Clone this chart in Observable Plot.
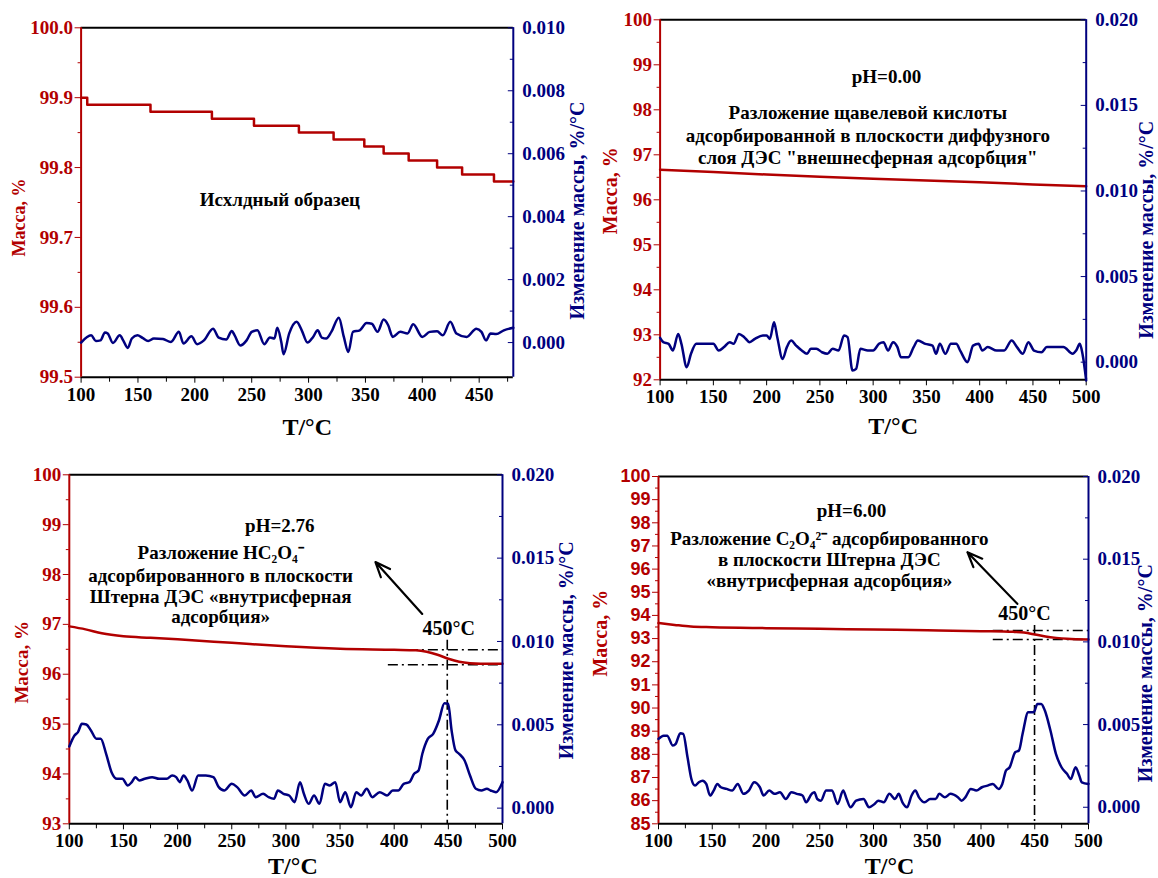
<!DOCTYPE html>
<html><head><meta charset="utf-8">
<script src="https://cdn.jsdelivr.net/npm/d3@7"></script>
<script src="https://cdn.jsdelivr.net/npm/@observablehq/plot@0.6"></script>
<style>
body{margin:0;background:#fff}
#fig{position:relative;width:1158px;height:878px;overflow:hidden;background:#fff}
</style></head><body><div id="fig"></div>
<script>
// ---------- DATA ----------
// Panel 1: initial sample (Исхлдный образец)
const p1MassT = [100, 105.4, 161, 215, 252, 291.5, 322, 349, 366, 388, 413, 435, 463, 480];
const p1Mass  = [99.90, 99.89, 99.88, 99.87, 99.86, 99.85, 99.84, 99.83, 99.82, 99.81, 99.80, 99.79, 99.78, 99.78];
const p1DtgT = [100,108.8,113,117,121,123.4,128,134,137,141,144.6,149.5,154,159,164,172,179,186,190,197,202,208,216,221,227.6,232.5,235,240,245.5,250,255,261,266,270,272.5,276,278,283,289.5,294,299,304,308,311.6,315.5,320,326.6,331,335,339,345,351,355.6,360.6,366,370,374,380.6,387,392,400,406.6,413,418,424.6,430,439,447.5,452,456,460,465,471.7,480];
const p1Dtg = [0,0.00023,0.00005,0.00007,0.00032,0.00029,-0.00001,0.00023,0.00007,-0.00017,0.00013,0.00023,0.00015,0.00005,0.00013,0.00011,0.00002,0.00034,-0.00003,0.0002,-0.00005,0.00007,0.00044,0.00016,0.0001,0.00037,0.00023,-0.00009,0.00007,0.00034,0.00039,-0.00005,0.00016,0.00013,0.00047,0.00002,-0.00037,0.00029,0.00066,0.00039,0,0.00018,0.00039,0.00016,0.00013,0.00034,0.00079,0.00018,-0.0003,0.00034,0.00039,0.00062,0.0006,0.00034,0.00073,0.00055,0.00018,0.00034,0.00029,0.00058,0.00018,0.00034,0.00036,0.00023,0.00066,0.00029,0.00018,0.00044,0.00034,0.00007,0.00029,0.00027,0.00039,0.00047];

// Panel 2: pH = 0.00
const p2MassT = [100, 150, 200, 250, 300, 350, 400, 450, 500];
const p2Mass  = [96.67, 96.62, 96.56, 96.51, 96.47, 96.43, 96.39, 96.34, 96.30];
const p2DtgT = [100,103,108,112,117,120,125,129,134,143,150,155,160,165.4,169,174,179,184,189,196.5,200,203,207,210,215,219,223,227.7,233,238,241.5,246.7,252,257,262,267.5,272.7,276,280.6,284,288,295,300,305.5,309.7,314,318.7,322.8,326,333,338,342,349,355.7,359,362.6,367.8,373,378,381.7,388.6,393.8,399,402.4,407.6,416,423,430,435,440.5,445.7,451,458,463,470,478.6,487.3,490.6,494,496.5,500];
const p2Dtg = [0.00142,0.00117,0.00107,0.00068,0.00165,0.00107,-0.00029,0.00049,0.00107,0.00107,0.00107,0.00068,0.00088,0.00117,0.00107,0.00165,0.00146,0.00117,0.00136,0.00156,0.00156,0.00136,0.00233,0.00146,0.00019,0.00088,0.00126,0.00097,0.00068,0.00049,0.00078,0.00078,0.00058,0.00049,0.00078,0.00068,0.00156,0.00146,-0.00049,-0.00039,0.00078,0.00068,0.00068,0.00107,0.00117,0.00068,0.00117,0.00088,0.00029,0.00029,0.00088,0.00126,0.00107,0.00097,0.00049,0.00107,0.00049,0.00107,0.00107,0.00068,0,0.00097,0.00107,0.00068,0.00088,0.00068,0.00068,0.00126,0.00088,0.00049,0.00117,0.00068,0.00058,0.00088,0.00088,0.00088,0.00049,0.00068,0.00107,0.00049,-0.00107];

// Panel 3: pH = 2.76
const p3MassT = [100, 115, 130, 150, 175, 200, 250, 300, 350, 400, 420, 430, 440, 450, 460, 470, 480, 500];
const p3Mass  = [96.96, 96.90, 96.82, 96.76, 96.73, 96.70, 96.63, 96.56, 96.51, 96.49, 96.48, 96.45, 96.39, 96.31, 96.25, 96.22, 96.21, 96.21];
const p3DtgT = [100,104.8,108,111.6,115.7,120,125,129,134,139,144,149,154,157.7,161,164.5,169.7,176.5,183,190,195,198.7,202,205.5,209,213.4,219,226,233,238,243,250,255,262,268,272,279,284,289,292.6,297.8,303,308,313,316.6,321,326,331,336,340.5,345.6,350,354.8,360,365,369.5,374.6,379.8,386.6,393.4,398.6,403.7,408.8,414,418.4,422.5,426,431,436,441.3,446.4,449.8,453,456.6,460,465,470,475.4,480.5,485.6,489,494,500];
const p3Dtg = [0.0037,0.00436,0.00456,0.00506,0.00502,0.00466,0.00416,0.00416,0.00326,0.00216,0.00176,0.00176,0.00136,0.00156,0.00186,0.00166,0.00176,0.00186,0.00176,0.00176,0.00196,0.00186,0.00156,0.00196,0.00166,0.00106,0.00196,0.00196,0.00186,0.00126,0.00106,0.00146,0.00126,0.00076,0.00106,0.00066,0.00086,0.00066,0.00056,0.00106,0.00086,0.00076,0.00036,0.00156,0.00086,0.00026,0.00076,0.00026,0.00146,0.00136,0.00156,0.00036,0.00096,0.00006,0.00096,0.00076,0.00116,0.00066,0.00096,0.00076,0.00106,0.00106,0.00146,0.00156,0.00206,0.00226,0.00326,0.00416,0.00446,0.00526,0.0063,0.00626,0.00466,0.00346,0.00326,0.00286,0.00196,0.00116,0.00106,0.00116,0.00106,0.00096,0.00156];

// Panel 4: pH = 6.00
const p4MassT = [100, 115, 130, 150, 200, 250, 300, 350, 400, 430, 440, 450, 460, 470, 480, 500];
const p4Mass  = [93.67, 93.59, 93.52, 93.49, 93.45, 93.42, 93.39, 93.36, 93.32, 93.29, 93.26, 93.18, 93.09, 93.03, 92.99, 92.96];
const p4DtgT = [100,104.8,108,113.4,116,120.3,123,127,130.6,134,137.5,141,144.4,148,151.3,154.7,158,163.3,168.5,173.7,179,184,189,194.3,197.8,203,208,213,218.4,223.6,228.7,234,237.3,242.5,245,247.7,251,256,261.4,266.6,271.8,275,278.7,283.8,290.7,295.9,301,304.5,309.6,314.8,320,323.4,326.9,331.3,335.4,338.9,342.3,347.5,352.7,357.8,361.2,366.4,371.6,378.5,382,385.4,390.5,395.7,400.9,406,411,416.4,419.8,423.2,426.7,431.8,435.3,438.7,443.9,449,452.5,456,459.4,464.6,469.7,474.9,480,483.5,488,491.4,493.8,500];
const p4Dtg = [0.00413,0.00433,0.00433,0.00373,0.00383,0.00448,0.00444,0.00302,0.00171,0.00131,0.00151,0.00161,0.00141,0.00071,0.00101,0.00141,0.00121,0.00111,0.00101,0.00141,0.00081,0.00101,0.00151,0.00121,0.00071,0.00101,0.00081,0.00091,0.0005,0.00091,0.00081,0.00071,0.0003,0.00081,0.00091,0.0005,0.0004,0.00101,0.00101,0.0002,0.00101,0.0005,0,0.0004,0.0005,0,0.0002,0.0004,0.0003,0.00081,0.0005,0.00081,0.0003,0,0.00071,0.00101,0.0006,0.0003,0.0005,0.0005,0.00081,0.0006,0.00081,0.0006,0.0004,0.0006,0.00111,0.00101,0.00121,0.00131,0.00141,0.00111,0.00141,0.00222,0.00242,0.00333,0.00343,0.00444,0.00575,0.00575,0.00625,0.00625,0.00585,0.00464,0.00323,0.00242,0.00202,0.00171,0.00242,0.00192,0.00151,0.00141];

// Tick values
const tTicks1 = [100, 150, 200, 250, 300, 350, 400, 450];
const tTicks  = [100, 150, 200, 250, 300, 350, 400, 450, 500];
const tMinor  = [125, 175, 225, 275, 325, 375, 425, 475];
const p1MassTicks = [99.5, 99.6, 99.7, 99.8, 99.9, 100.0];
const p1MassMinor = [99.55, 99.65, 99.75, 99.85, 99.95];
const p1DtgTicks = [0, 0.002, 0.004, 0.006, 0.008, 0.010];
const p1DtgMinor = [0.001, 0.003, 0.005, 0.007, 0.009];
const p2MassTicks = [92, 93, 94, 95, 96, 97, 98, 99, 100];
const p3MassTicks = [93, 94, 95, 96, 97, 98, 99, 100];
const p4MassTicks = [85, 86, 87, 88, 89, 90, 91, 92, 93, 94, 95, 96, 97, 98, 99, 100];
const dtgTicks = [0, 0.005, 0.010, 0.015, 0.020];
const dtgMinor = [0.0025, 0.0075, 0.0125, 0.0175];

// Texts
const massTitle = "Масса, %";
const dtgTitle = "Изменение массы, %/°C";
const tTitle = "T/°C";
const p1Notes = ["Исхлдный образец"];
const p2Notes = ["pH=0.00", "Разложение щавелевой кислоты", "адсорбированной в плоскости диффузного", "слоя ДЭС \"внешнесферная адсорбция\""];
const p3Notes = ["pH=2.76", "Разложение HC₂O₄⁻", "адсорбированного в плоскости", "Штерна ДЭС «внутрисферная", "адсорбция»"];
const p4Notes = ["pH=6.00", "Разложение C₂O₄²⁻ адсорбированного", "в плоскости Штерна ДЭС", "«внутрисферная адсорбция»"];
const peakLabel = "450°C";

// ---------- DRAWING ----------
const RED = "#b20000", BLUE = "#00007f";
const SERIF = "'Liberation Serif','Times New Roman',serif";
const SANS = "'Liberation Sans',Arial,sans-serif";
const halves = ticks => ticks.slice(0, -1).map(v => v + 0.5);

const panels = [
  {x0: 0, y0: 0, w: 580, h: 440, left: 80.6, right: 512.8, top: 27.3, bottom: 376.7,
   tDomain: [100, 480], mDomain: [99.5, 100], dDomain: [-0.0011, 0.010],
   massT: p1MassT, mass: p1Mass, massCurve: "step-after", dtgT: p1DtgT, dtg: p1Dtg,
   tTicks: tTicks1, tMinor, mTicks: p1MassTicks, mMinor: p1MassMinor, mFormat: d => d.toFixed(1),
   mFont: SERIF, mSize: 19, mTitleSize: 18,
   dTicks: p1DtgTicks, dMinor: p1DtgMinor,
   mLab: [-62, 15], dLab: [64, 8], tLab: [10, 50],
   notes: p1Notes.map((s, i) => ({s, t: 274.8, m: [99.753][i]}))},
  {x0: 580, y0: 0, w: 578, h: 440, left: 659.6, right: 1085.7, top: 19.3, bottom: 379.3,
   tDomain: [100, 500], mDomain: [92, 100], dDomain: [-0.00103, 0.020],
   massT: p2MassT, mass: p2Mass, massCurve: "linear", dtgT: p2DtgT, dtg: p2Dtg,
   tTicks, tMinor, mTicks: p2MassTicks, mMinor: halves(p2MassTicks), mFormat: d => d,
   mFont: SERIF, mSize: 19, mTitleSize: 20,
   dTicks: dtgTicks, dMinor: dtgMinor,
   mLab: [-50, -9], dLab: [60, 30], tLab: [20, 47],
   notes: p2Notes.map((s, i) => ({s, t: [312.5, 295, 295, 295][i], m: [98.72, 97.92, 97.41, 96.94][i]}))},
  {x0: 0, y0: 440, w: 580, h: 438, left: 68.8, right: 502, top: 474.3, bottom: 823.3,
   tDomain: [100, 500], mDomain: [93, 100], dDomain: [-0.00094, 0.020],
   massT: p3MassT, mass: p3Mass, massCurve: "monotone-x", dtgT: p3DtgT, dtg: p3Dtg,
   tTicks, tMinor, mTicks: p3MassTicks, mMinor: halves(p3MassTicks), mFormat: d => d,
   mFont: SERIF, mSize: 19, mTitleSize: 19,
   dTicks: dtgTicks, dMinor: dtgMinor,
   mLab: [-47, 13], dLab: [64, 1], tLab: [7, 43],
   notes: p3Notes.map((s, i) => ({s, t: [294.4, 239.7, 239.7, 239.7, 239.7][i], m: [98.98, 98.43, 97.98, 97.56, 97.14][i]})),
   guides: {h: [{m: 96.49, t1: 394.6, t2: 500}, {m: 96.19, t1: 394.6, t2: 500}],
            v: [{t: 449, m1: 96.68, m2: 93}],
            arrow: [{t1: 425.9, m1: 97.21, t2: 382.7, m2: 98.25}],
            label: [{s: peakLabel, t: 450.4, m: 96.92}]}},
  {x0: 580, y0: 440, w: 578, h: 438, left: 658, right: 1088, top: 476, bottom: 823.3,
   tDomain: [100, 500], mDomain: [85, 100], dDomain: [-0.001, 0.020],
   massT: p4MassT, mass: p4Mass, massCurve: "monotone-x", dtgT: p4DtgT, dtg: p4Dtg,
   tTicks, tMinor, mTicks: p4MassTicks, mMinor: halves(p4MassTicks), mFormat: d => d,
   mFont: SANS, mSize: 18, mTitleSize: 20,
   dTicks: dtgTicks, dMinor: dtgMinor,
   mLab: [-58, -17], dLab: [57, 23], tLab: [16, 43],
   notes: p4Notes.map((s, i) => ({s, t: [279.5, 258.9, 258.9, 258.9][i], m: [98.53, 97.32, 96.41, 95.51][i]})),
   guides: {h: [{m: 93.35, t1: 411.4, t2: 500}, {m: 92.96, t1: 411.4, t2: 500}],
            v: [{t: 449.8, m1: 93.56, m2: 85}],
            arrow: [{t1: 433.8, m1: 94.5, t2: 387.4, m2: 96.73}],
            label: [{s: peakLabel, t: 440.5, m: 94.08}]}}
];

const fig = document.getElementById("fig");
const tickFont = {fontSize: 19, fontWeight: "bold", fontFamily: SERIF};
const svgStyle = {background: "transparent", overflow: "visible", fontFamily: SERIF, fontWeight: "bold"};

for (const p of panels) {
  const margins = {marginLeft: p.left - p.x0, marginRight: p.x0 + p.w - p.right,
                   marginTop: p.top - p.y0, marginBottom: p.y0 + p.h - p.bottom};
  const massRows = p.massT.map((t, i) => ({t, v: p.mass[i]}));
  const dtgRows = p.dtgT.map((t, i) => ({t, v: p.dtg[i]}));
  const dash = "10,4,2,4";
  const g = p.guides;
  const A = Plot.plot({
    width: p.w, height: p.h, ...margins, style: svgStyle,
    x: {domain: p.tDomain, label: null}, y: {domain: p.mDomain, label: null},
    marks: [
      Plot.axisX({ticks: p.tTicks, tickSize: 6, tickPadding: 4, color: "black", label: null, ...tickFont}),
      Plot.axisX({ticks: p.tMinor, tickSize: 5, fill: "none", color: "black", label: null}),
      Plot.axisY({anchor: "left", ticks: p.mTicks, tickSize: 6, tickPadding: 2, tickFormat: p.mFormat,
                  color: RED, label: null, ...tickFont, fontFamily: p.mFont, fontSize: p.mSize}),
      Plot.axisY({anchor: "left", ticks: p.mMinor, tickSize: 3, fill: "none", color: RED, label: null}),
      Plot.ruleY([p.mDomain[1]], {stroke: "black", strokeWidth: 2}),
      Plot.ruleY([p.mDomain[0]], {stroke: "black", strokeWidth: 2}),
      Plot.ruleX([p.tDomain[0]], {stroke: RED, strokeWidth: 2}),
      g ? Plot.ruleY(g.h, {y: "m", x1: "t1", x2: "t2", stroke: "black", strokeWidth: 1.6, strokeDasharray: dash}) : null,
      g ? Plot.ruleX(g.v, {x: "t", y1: "m1", y2: "m2", stroke: "black", strokeWidth: 1.6, strokeDasharray: dash}) : null,
      Plot.line(massRows, {x: "t", y: "v", stroke: RED, strokeWidth: 2.5, curve: p.massCurve}),
      g ? Plot.arrow(g.arrow, {x1: "t1", y1: "m1", x2: "t2", y2: "m2", stroke: "black", strokeWidth: 2.2, headLength: 11, headAngle: 45}) : null,
      g ? Plot.text(g.label, {x: "t", y: "m", text: "s", fill: "black", fontSize: 20, fontWeight: "bold", fontFamily: SERIF}) : null,
      Plot.text(p.notes, {x: "t", y: "m", text: "s", fill: "black", fontSize: 19, fontWeight: "bold", fontFamily: SERIF}),
      Plot.text([massTitle], {frameAnchor: "left", textAnchor: "middle", lineAnchor: "middle", rotate: -90,
                              dx: p.mLab[0], dy: p.mLab[1], fill: RED,
                              fontSize: p.mTitleSize, fontWeight: "bold", fontFamily: SERIF}),
      Plot.text([tTitle], {frameAnchor: "bottom", textAnchor: "middle", lineAnchor: "middle",
                           dx: p.tLab[0], dy: p.tLab[1], fill: "black",
                           fontSize: 24, fontWeight: "bold", fontFamily: SERIF})
    ]
  });
  const B = Plot.plot({
    width: p.w, height: p.h, ...margins, style: svgStyle,
    x: {domain: p.tDomain, label: null, axis: null}, y: {domain: p.dDomain, label: null},
    marks: [
      Plot.axisY({anchor: "right", ticks: p.dTicks, tickSize: 6, dx: -6, fill: "none", color: BLUE, label: null}),
      Plot.axisY({anchor: "right", ticks: p.dMinor, tickSize: 4, dx: -4, fill: "none", color: BLUE, label: null}),
      Plot.axisY({anchor: "right", ticks: p.dTicks, tickSize: 0, tickPadding: 9, tickFormat: d => d.toFixed(3),
                  color: BLUE, label: null, ...tickFont}),
      Plot.ruleX([p.tDomain[1]], {stroke: BLUE, strokeWidth: 2}),
      Plot.line(dtgRows, {x: "t", y: "v", stroke: BLUE, strokeWidth: 2.5, curve: "monotone-x"}),
      Plot.text([dtgTitle], {frameAnchor: "right", textAnchor: "middle", lineAnchor: "middle", rotate: -90,
                             dx: p.dLab[0], dy: p.dLab[1], fill: BLUE,
                             fontSize: 20, fontWeight: "bold", fontFamily: SERIF})
    ]
  });
  for (const svg of [A, B]) {
    svg.style.position = "absolute";
    svg.style.left = p.x0 + "px";
    svg.style.top = p.y0 + "px";
    svg.style.maxWidth = "none";
    fig.appendChild(svg);
  }
}
</script>
</body></html>
